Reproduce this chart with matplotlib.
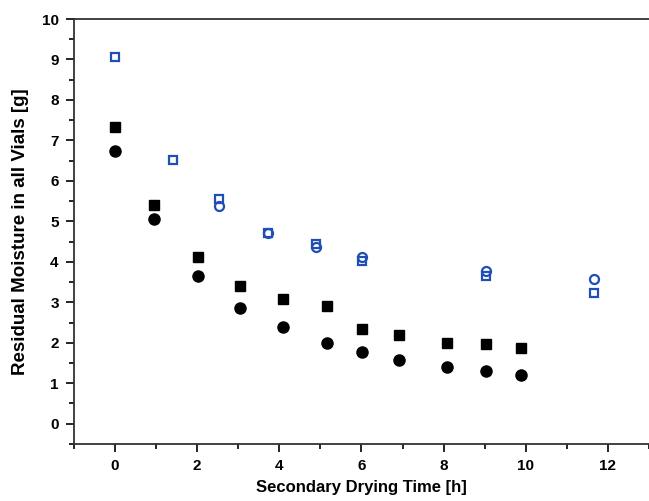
import numpy as np
import matplotlib.pyplot as plt
from matplotlib.ticker import MultipleLocator

plt.rcParams['font.family'] = ['Liberation Sans', 'DejaVu Sans']
plt.rcParams['font.weight'] = 'bold'

# black filled series
t_black = [0, 0.94, 2.02, 3.05, 4.1, 5.15, 6.01, 6.91, 8.09, 9.02, 9.88]
sq_black = [7.33, 5.40, 4.11, 3.40, 3.09, 2.92, 2.33, 2.18, 2.00, 1.96, 1.86]
ci_black = [6.74, 5.07, 3.64, 2.87, 2.38, 1.99, 1.77, 1.57, 1.41, 1.29, 1.21]

# blue open series
t_blue_sq = [0, 1.41, 2.52, 3.72, 4.89, 6.01, 9.02, 11.67]
sq_blue = [9.07, 6.51, 5.54, 4.72, 4.44, 4.02, 3.64, 3.23]
t_blue_ci = [2.52, 3.72, 4.89, 6.01, 9.02, 11.67]
ci_blue = [5.37, 4.72, 4.37, 4.13, 3.77, 3.57]

blue = '#1f4fb5'

fig = plt.figure(figsize=(6.49, 5.01), dpi=100)
ax = fig.add_axes([0.114, 0.114, 0.886, 0.848])

ax.plot(t_black, sq_black, 's', color='black', markersize=7)
ax.plot(t_black, ci_black, 'o', color='black', markersize=8)
ax.plot(t_blue_sq, sq_blue, 's', mfc='white', mec=blue, mew=1.6, markersize=6)
ax.plot(t_blue_ci, ci_blue, 'o', mfc='none', mec=blue, mew=1.6, markersize=6.5)

ax.set_xlim(-1, 13)
ax.set_ylim(-0.5, 10)
ax.xaxis.set_major_locator(MultipleLocator(2))
ax.xaxis.set_minor_locator(MultipleLocator(1))
ax.yaxis.set_major_locator(MultipleLocator(1))
ax.yaxis.set_minor_locator(MultipleLocator(0.5))
ax.tick_params(which='both', direction='out', width=1.2, labelsize=11)
ax.tick_params(which='major', length=6, pad=5)
ax.tick_params(which='minor', length=3.5)
ax.spines['right'].set_visible(False)
for s in ['left', 'bottom', 'top']:
    ax.spines[s].set_linewidth(1.3)
    ax.spines[s].set_color('#333333')

ax.set_xlabel('Secondary Drying Time [h]', fontsize=12, fontweight='bold', labelpad=5)
ax.set_ylabel('Residual Moisture in all Vials [g]', fontsize=13.5, fontweight='bold', labelpad=9)

fig.savefig('out.png', dpi=100)
